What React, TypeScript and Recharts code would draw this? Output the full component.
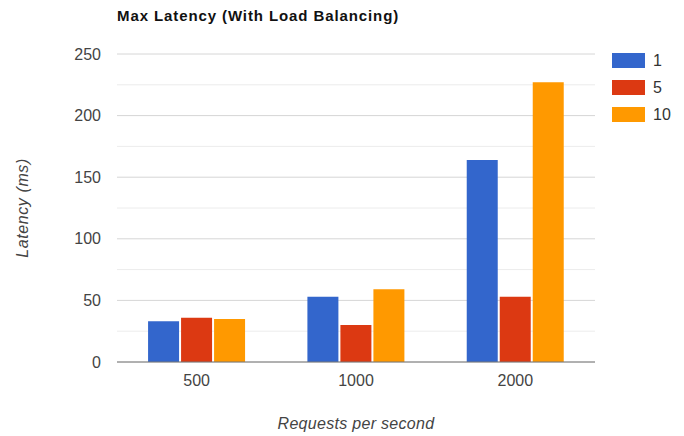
import React from "react";
import { BarChart, Bar, XAxis, YAxis, CartesianGrid } from "recharts";

// Requests per second (categories)
const categories = ["500", "1000", "2000"];
// Max latency in ms for each series
const series1 = [33, 53, 164];
const series5 = [36, 30, 53];
const series10 = [35, 59, 227];

const seriesNames = ["1", "5", "10"];
const colors = ["#3366cc", "#dc3912", "#ff9900"];

// gridline values: labelled every 50, faint minor lines in between
const yTicks = [0, 25, 50, 75, 100, 125, 150, 175, 200, 225, 250];
const LABEL_STEP = 50;

const data = categories.map((c, i) => ({
  name: c,
  s1: series1[i],
  s5: series5[i],
  s10: series10[i],
}));

const FONT = "Arial, 'Liberation Sans', sans-serif";

const YTick = (props: any) => {
  const { x, y, payload } = props;
  if (payload.value % LABEL_STEP !== 0) return <g />;
  return (
    <text
      x={x}
      y={y}
      dy="0.355em"
      textAnchor="end"
      fontSize={16}
      fill="#444"
      fontFamily={FONT}
    >
      {payload.value}
    </text>
  );
};

// major lines on even indexes, minor ones on odd indexes
const GridLine = (props: any) => {
  const { x1, y1, x2, y2, index } = props;
  const major = index % 2 === 0;
  return (
    <line
      x1={x1}
      y1={y1}
      x2={x2}
      y2={y2}
      stroke={major ? "#d6d6d6" : "#ececec"}
      strokeWidth={1}
    />
  );
};

const LegendBox = () => (
  <div
    style={{
      position: "absolute",
      left: 612,
      top: 47,
      fontFamily: FONT,
    }}
  >
    {seriesNames.map((n, i) => (
      <div key={n} style={{ display: "flex", alignItems: "center", height: 27 }}>
        <div
          style={{ width: 33, height: 15, background: colors[i], marginRight: 8 }}
        />
        <span style={{ fontSize: 16, color: "#333" }}>{n}</span>
      </div>
    ))}
  </div>
);

export default function App() {
  return (
    <div
      style={{
        position: "absolute",
        left: 0,
        top: 0,
        width: 684,
        height: 436,
        background: "#fff",
        fontFamily: FONT,
      }}
    >
      <BarChart
        width={684}
        height={436}
        data={data}
        margin={{ top: 54, right: 89, bottom: 44, left: 0 }}
        barGap={2}
        barCategoryGap="19.5%"
      >
        <CartesianGrid vertical={false} horizontal={GridLine} />
        <XAxis
          dataKey="name"
          height={30}
          tickLine={false}
          axisLine={{ stroke: "#777" }}
          tickSize={0}
          tickMargin={13}
          tick={{ fontSize: 16, fill: "#444", fontFamily: FONT }}
          label={{
            value: "Requests per second",
            position: "insideBottom",
            offset: -37,
            style: {
              fontSize: 16,
              fontStyle: "italic",
              fill: "#444",
              fontFamily: FONT,
              letterSpacing: 0.3,
            },
          }}
        />
        <YAxis
          width={117}
          domain={[0, 250]}
          ticks={yTicks}
          interval={0}
          tickLine={false}
          axisLine={false}
          tickSize={0}
          tickMargin={16}
          tick={YTick}
          label={{
            value: "Latency (ms)",
            angle: -90,
            position: "insideLeft",
            offset: 0,
            dx: 22,
            style: {
              fontSize: 16,
              fontStyle: "italic",
              fill: "#444",
              fontFamily: FONT,
              letterSpacing: 0.6,
              textAnchor: "middle",
            },
          }}
        />
        <Bar dataKey="s1" name={seriesNames[0]} fill={colors[0]} isAnimationActive={false} />
        <Bar dataKey="s5" name={seriesNames[1]} fill={colors[1]} isAnimationActive={false} />
        <Bar dataKey="s10" name={seriesNames[2]} fill={colors[2]} isAnimationActive={false} />
      </BarChart>
      <div
        style={{
          position: "absolute",
          left: 117,
          top: 7,
          fontSize: 15,
          fontWeight: "bold",
          letterSpacing: 0.9,
          color: "#111",
          whiteSpace: "nowrap",
        }}
      >
        Max Latency (With Load Balancing)
      </div>
      <LegendBox />
    </div>
  );
}
